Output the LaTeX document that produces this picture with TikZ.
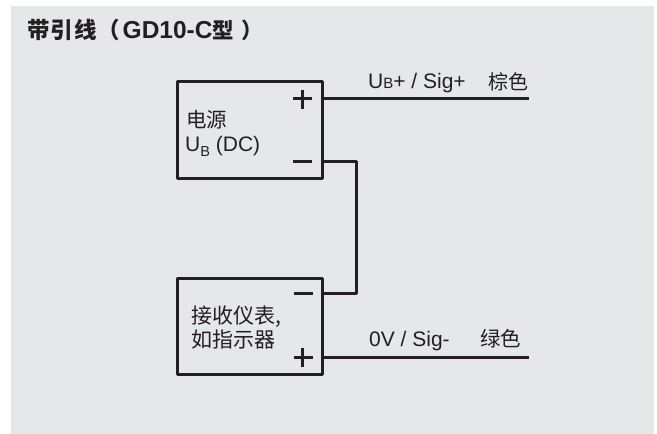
\documentclass[tikz,border=0pt]{standalone}
\usepackage{fontspec}
\setmainfont{Liberation Sans}
\newfontfamily\cjk{Noto Sans CJK SC}
\definecolor{panel}{HTML}{E6E7E9}
\definecolor{ink}{HTML}{231F20}
\tikzset{
  devbox/.style={draw=ink,line width=2.3pt,line join=round,outer sep=0pt,minimum width=145pt,inner sep=0pt},
  wire/.style={draw=ink,line width=2.3pt,line join=round},
  lbl/.style={inner sep=0pt,text=ink,anchor=base west,font=\fontsize{21}{24}\selectfont},
  sym/.style={draw=ink,line width=2.3pt}
}
\begin{document}
\begin{tikzpicture}[x=1pt,y=-1pt]
\useasboundingbox (0,0) rectangle (657,434);
\fill[white] (0,0) rectangle (657,434);
\fill[panel] (11,6) rectangle (654,434);
\node[lbl,font=\fontsize{24.5}{26}\selectfont\bfseries] (title) at (27,38.5) {{\fontsize{22.5}{26}\selectfont\cjk\bfseries 带\kern1pt引\kern1pt线\kern1pt（\kern2.5pt}GD10-C{\fontsize{21.5}{26}\selectfont\cjk\bfseries 型\kern7pt）}};
\node[devbox,anchor=north west,minimum height=97pt] (a) at (177.5,81.5) {};
\node[devbox,anchor=north west,minimum height=96pt] (b) at (177.5,278.5) {};
\coordinate (ap) at (a.east |- 0,98.5);
\coordinate (am) at (a.east |- 0,161.5);
\coordinate (bm) at (b.east |- 0,293.5);
\coordinate (bp) at (b.east |- 0,357.5);
\coordinate (apEnd) at (529,98.5);
\coordinate (bpEnd) at (529,357.5);
\draw[wire] (ap) -- (apEnd);
\draw[wire] (bp) -- (bpEnd);
\draw[wire] (am) -| (356.5,228) |- (bm);
% polarity signs
\draw[sym] (293,98.5) -- (312,98.5) (302.5,89.5) -- (302.5,108.5);
\draw[sym] (293,161.5) -- (312,161.5);
\draw[sym] (293.5,293.5) -- (312.5,293.5);
\draw[sym] (293.5,357.5) -- (312.5,357.5) (302.5,348) -- (302.5,367);
\node[lbl] (t1) at (186,127) {\fontsize{20.5}{24}\selectfont\cjk 电源};
\node[lbl] (t2) at (185,151) {U\raisebox{-5pt}{\fontsize{14.5}{16}\selectfont B} (DC)};
\node[lbl] (t3) at (191,323) {{\cjk 接收仪表,}};
\node[lbl] (t4) at (191,347.5) {\cjk 如指示器};
\node[lbl] (t5) at (368,88.5) {U{\fontsize{15}{16}\selectfont B}+ / Sig+};
\node[lbl] (t6) at (488,89.5) {\fontsize{20}{24}\selectfont\cjk 棕色};
\node[lbl] (t7) at (369,346.7) {0V / Sig-};
\node[lbl] (t8) at (480,346) {\fontsize{20.5}{24}\selectfont\cjk 绿色};
\end{tikzpicture}
\end{document}
